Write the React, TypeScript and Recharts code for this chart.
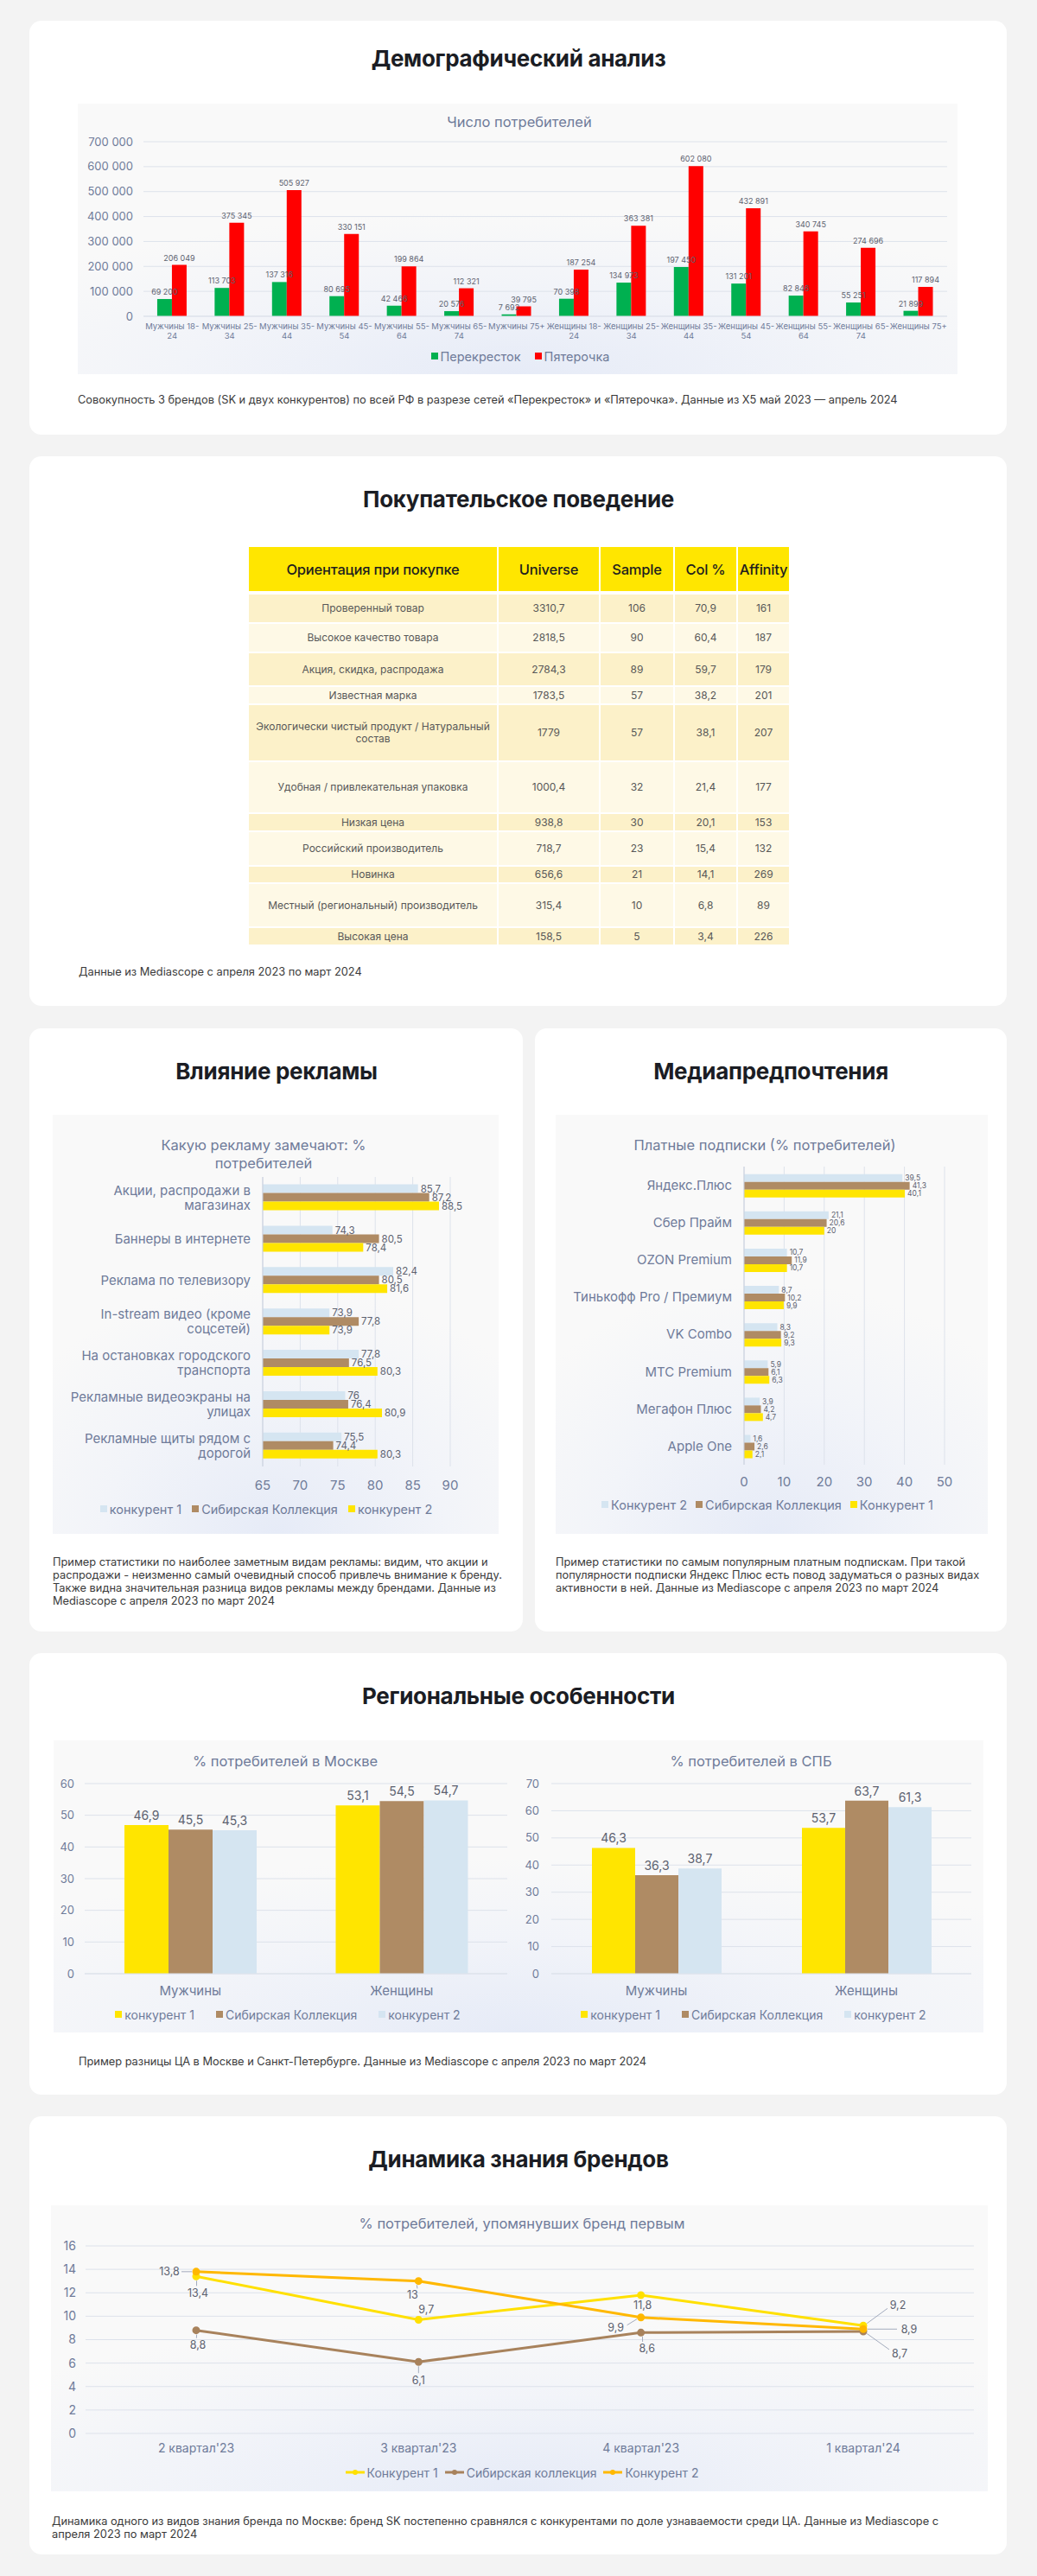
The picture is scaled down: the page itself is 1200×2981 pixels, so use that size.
import React from 'react';
import {
  Bar,
  BarChart,
  CartesianGrid,
  LabelList,
  Line,
  LineChart,
  XAxis,
  YAxis,
} from 'recharts';

const FONT = 'Inter, "Noto Sans", sans-serif';
const AXIS = '#6f7b99';
const GRID = '#dde2eb';
const VALUE = '#5d6270';
const YELLOW = '#FFE500';
const BROWN = '#AF8B64';
const BLUE = '#D5E5F1';
const GREEN = '#00B050';
const RED = '#FF0000';
const LINE_Y = '#FFE000';
const LINE_O = '#FFB800';
const LINE_B = '#A8825C';

// --- Демографический анализ
const demoGroups = [
  'Мужчины 18-24', 'Мужчины 25-34', 'Мужчины 35-44', 'Мужчины 45-54', 'Мужчины 55-64', 'Мужчины 65-74', 'Мужчины 75+',
  'Женщины 18-24', 'Женщины 25-34', 'Женщины 35-44', 'Женщины 45-54', 'Женщины 55-64', 'Женщины 65-74', 'Женщины 75+',
];
const perekrestok = [69200, 113703, 137316, 80695, 42466, 20576, 7692, 70398, 134973, 197450, 131201, 82846, 55251, 21899];
const pyaterochka = [206049, 375345, 505927, 330151, 199864, 112321, 39795, 187254, 363381, 602080, 432891, 340745, 274696, 117894];
const demoTicks = [0, 100000, 200000, 300000, 400000, 500000, 600000, 700000];

// --- Покупательское поведение
const tableHeader = ['Ориентация при покупке', 'Universe', 'Sample', 'Col %', 'Affinity'];
const purchaseDrivers = [
  'Проверенный товар',
  'Высокое качество товара',
  'Акция, скидка, распродажа',
  'Известная марка',
  'Экологически чистый продукт / Натуральный состав',
  'Удобная / привлекательная упаковка',
  'Низкая цена',
  'Российский производитель',
  'Новинка',
  'Местный (региональный) производитель',
  'Высокая цена',
];
const universe = [3310.7, 2818.5, 2784.3, 1783.5, 1779, 1000.4, 938.8, 718.7, 656.6, 315.4, 158.5];
const sample = [106, 90, 89, 57, 57, 32, 30, 23, 21, 10, 5];
const colPct = [70.9, 60.4, 59.7, 38.2, 38.1, 21.4, 20.1, 15.4, 14.1, 6.8, 3.4];
const affinity = [161, 187, 179, 201, 207, 177, 153, 132, 269, 89, 226];

// --- Влияние рекламы
const adTypes = [
  'Акции, распродажи в магазинах',
  'Баннеры в интернете',
  'Реклама по телевизору',
  'In-stream видео (кроме соцсетей)',
  'На остановках городского транспорта',
  'Рекламные видеоэкраны на улицах',
  'Рекламные щиты рядом с дорогой',
];
const adCompetitor1 = [85.7, 74.3, 82.4, 73.9, 77.8, 76, 75.5];
const adSibir = [87.2, 80.5, 80.5, 77.8, 76.5, 76.4, 74.4];
const adCompetitor2 = [88.5, 78.4, 81.6, 73.9, 80.3, 80.9, 80.3];
const adTicks = [65, 70, 75, 80, 85, 90];

// --- Медиапредпочтения
const subscriptions = [
  'Яндекс.Плюс', 'Сбер Прайм', 'OZON Premium', 'Тинькофф Pro / Премиум',
  'VK Combo', 'МТС Premium', 'Мегафон Плюс', 'Apple One',
];
const subCompetitor2 = [39.5, 21.1, 10.7, 8.7, 8.3, 5.9, 3.9, 1.6];
const subSibir = [41.3, 20.6, 11.9, 10.2, 9.2, 6.1, 4.2, 2.6];
const subCompetitor1 = [40.1, 20, 10.7, 9.9, 9.3, 6.3, 4.7, 2.1];
const subTicks = [0, 10, 20, 30, 40, 50];

// --- Региональные особенности
const genders = ['Мужчины', 'Женщины'];
const mskCompetitor1 = [46.9, 53.1];
const mskSibir = [45.5, 54.5];
const mskCompetitor2 = [45.3, 54.7];
const spbCompetitor1 = [46.3, 53.7];
const spbSibir = [36.3, 63.7];
const spbCompetitor2 = [38.7, 61.3];
const mskTicks = [0, 10, 20, 30, 40, 50, 60];
const spbTicks = [0, 10, 20, 30, 40, 50, 60, 70];

// --- Динамика знания брендов
const quarters = ["2 квартал'23", "3 квартал'23", "4 квартал'23", "1 квартал'24"];
const dynCompetitor1 = [13.4, 9.7, 11.8, 9.2];
const dynSibir = [8.8, 6.1, 8.6, 8.7];
const dynCompetitor2 = [13.8, 13, 9.9, 8.9];
const dynTicks = [0, 2, 4, 6, 8, 10, 12, 14, 16];

const comma = (v: unknown) => String(v).replace('.', ',');
// non-breaking space so Recharts' Text doesn't wrap "206 049" into two lines
const spaced = (v: unknown) => String(v).replace(/\B(?=(\d{3})+(?!\d))/g, '\u00A0');

const demoData = demoGroups.map((name, i) => ({ name, perekrestok: perekrestok[i], pyaterochka: pyaterochka[i] }));
const adData = adTypes.map((name, i) => ({ name, c1: adCompetitor1[i], sk: adSibir[i], c2: adCompetitor2[i] }));
const subData = subscriptions.map((name, i) => ({ name, c2: subCompetitor2[i], sk: subSibir[i], c1: subCompetitor1[i] }));
const mskData = genders.map((name, i) => ({ name, c1: mskCompetitor1[i], sk: mskSibir[i], c2: mskCompetitor2[i] }));
const spbData = genders.map((name, i) => ({ name, c1: spbCompetitor1[i], sk: spbSibir[i], c2: spbCompetitor2[i] }));
const dynData = quarters.map((name, i) => ({ name, c1: dynCompetitor1[i], sk: dynSibir[i], c2: dynCompetitor2[i] }));

// label placement for the line chart (dx, dy from the point)
const dynLabelShift: Record<string, number[][]> = {
  c1: [[2, 19], [9, -12], [2, 12], [40, -24]],
  sk: [[2, 17], [0, 21], [7, 18], [42, 25]],
  c2: [[-31, 0], [-7, 16], [-29, 12], [53, 0]],
};

const tableCols = [287, 116, 84, 71, 59];
const tableRowHeights = [32, 32, 37, 19, 64, 58, 19, 38, 18, 49, 19];

function abs(left: number, top: number, extra: React.CSSProperties = {}): React.CSSProperties {
  return { position: 'absolute', left, top, ...extra };
}

function Card({ x, y, w, h }: { x: number; y: number; w: number; h: number }) {
  return <div style={abs(x, y, { width: w, height: h, background: '#fff', borderRadius: 14 })} />;
}

function Title({ cx, cy, text }: { cx: number; cy: number; text: string }) {
  return (
    <div
      style={abs(cx - 300, cy - 16, {
        width: 600, textAlign: 'center', lineHeight: '32px', fontSize: 26,
        fontWeight: 700, color: '#1b1d24', letterSpacing: -0.3,
      })}
    >
      {text}
    </div>
  );
}

function Panel({ x, y, w, h }: { x: number; y: number; w: number; h: number }) {
  return (
    <div
      style={abs(x, y, {
        width: w, height: h,
        background: 'radial-gradient(ellipse 70% 60% at 50% 100%, #e6ebf7 0%, #f2f4f9 55%, #f9f9f9 100%)',
      })}
    />
  );
}

function ChartTitle({ cx, cy, lines, size = 16.5 }: { cx: number; cy: number; lines: string[]; size?: number }) {
  const lh = 21;
  return (
    <div
      style={abs(cx - 250, cy - lh / 2, {
        width: 500, textAlign: 'center', fontSize: size, lineHeight: `${lh}px`, color: AXIS,
      })}
    >
      {lines.map((l) => <div key={l}>{l}</div>)}
    </div>
  );
}

function Caption({ x, y, lines }: { x: number; y: number; lines: string[] }) {
  return (
    <div style={abs(x, y - 7.5, { fontSize: 12.8, lineHeight: '15px', color: '#3a3a3a', whiteSpace: 'nowrap' })}>
      {lines.map((l) => <div key={l}>{l}</div>)}
    </div>
  );
}

interface LegendItem { label: string; color: string }

function HtmlLegend({ cx, cy, items, gap, size = 14.5, line = false }: {
  cx: number; cy: number; items: LegendItem[]; gap: number; size?: number; line?: boolean;
}) {
  return (
    <div
      style={abs(cx - 300, cy - 10, {
        width: 600, height: 20, display: 'flex', justifyContent: 'center', alignItems: 'center',
        gap, fontSize: size, color: AXIS,
      })}
    >
      {items.map((it) => (
        <div key={it.label} style={{ display: 'flex', alignItems: 'center', gap: 3 }}>
          {line ? (
            <svg width={22} height={10}>
              <line x1={0} y1={5} x2={22} y2={5} stroke={it.color} strokeWidth={3} />
              <circle cx={11} cy={5} r={3} fill={it.color} />
            </svg>
          ) : (
            <span style={{ width: 8, height: 8, background: it.color, display: 'inline-block' }} />
          )}
          <span>{it.label}</span>
        </div>
      ))}
    </div>
  );
}

function wrapWords(text: string, maxChars: number): string[] {
  const lines: string[] = [];
  let cur = '';
  for (const w of text.split(' ')) {
    const next = cur ? `${cur} ${w}` : w;
    if (next.length > maxChars && cur) {
      lines.push(cur);
      cur = w;
    } else {
      cur = next;
    }
  }
  if (cur) lines.push(cur);
  return lines;
}

function WrapTick(props: any) {
  const { x, y, payload, maxChars, fontSize, lineHeight } = props;
  const lines = wrapWords(String(payload.value), maxChars);
  const first = -((lines.length - 1) * lineHeight) / 2 + fontSize * 0.36;
  return (
    <text x={x} y={y} textAnchor="end" fill={AXIS} fontSize={fontSize} fontFamily={FONT}>
      {lines.map((l, i) => (
        <tspan key={l} x={x} dy={i === 0 ? first : lineHeight}>{l}</tspan>
      ))}
    </text>
  );
}

function DemoTick(props: any) {
  const { x, y, payload } = props;
  const label = String(payload.value);
  const cut = label.indexOf('-');
  const lines = cut >= 0 ? [label.slice(0, cut + 1), label.slice(cut + 1)] : [label];
  return (
    <text x={x} y={y} textAnchor="middle" fill={AXIS} fontSize={9.5} fontFamily={FONT}>
      {lines.map((l, i) => (
        <tspan key={l} x={x} dy={i === 0 ? 6.5 : 11}>{l}</tspan>
      ))}
    </text>
  );
}

function DynLabel(props: any) {
  const { value, index, series } = props;
  const vb = props.viewBox || {};
  const x = Number(props.x ?? vb.x);
  const y = Number(props.y ?? vb.y);
  const [dx, dy] = dynLabelShift[series][index];
  const lx = x + dx;
  const ly = y + dy;
  const dist = Math.hypot(dx, dy);
  const ux = dx / dist;
  const uy = dy / dist;
  return (
    <g>
      {dist > 16 && (
        <line
          x1={x + ux * 5}
          y1={y + uy * 5}
          x2={lx - ux * 14}
          y2={ly - uy * 8}
          stroke="#a3abbd"
          strokeWidth={1}
        />
      )}
      <text x={lx} y={ly} textAnchor="middle" dominantBaseline="central" fill={VALUE} fontSize={12.5} fontFamily={FONT}>
        {comma(value)}
      </text>
    </g>
  );
}

function PurchaseTable() {
  const rows = purchaseDrivers.map((d, i) => [d, comma(universe[i]), String(sample[i]), comma(colPct[i]), String(affinity[i])]);
  const cols = tableCols.map((c) => `${c}px`).join(' ');
  return (
    <div style={abs(288, 633, { width: 625 })}>
      <div style={{ display: 'grid', gridTemplateColumns: cols, columnGap: 2, height: 51 }}>
        {tableHeader.map((h) => (
          <div
            key={h}
            style={{
              background: '#FFE600', display: 'flex', alignItems: 'center', justifyContent: 'center',
              fontSize: 16.5, color: '#1e1e1e', fontWeight: 500, whiteSpace: 'nowrap', letterSpacing: -0.2,
            }}
          >
            {h}
          </div>
        ))}
      </div>
      <div
        style={{
          display: 'grid', gridTemplateColumns: cols, gridTemplateRows: tableRowHeights.map((r) => `${r}px`).join(' '),
          columnGap: 2, rowGap: 2, marginTop: 4,
        }}
      >
        {rows.flatMap((r, i) => r.map((c, j) => (
          <div
            key={`${i}-${j}`}
            style={{
              background: i % 2 === 0 ? '#FCF1C9' : '#FEF9E6', display: 'flex', alignItems: 'center',
              justifyContent: 'center', textAlign: 'center', fontSize: 12, lineHeight: '14px', color: '#585858',
              padding: j === 0 ? '0 4px' : 0,
            }}
          >
            {c}
          </div>
        )))}
      </div>
    </div>
  );
}

const tickStyle = (size: number) => ({ fill: AXIS, fontSize: size, fontFamily: FONT });

export default function App() {
  return (
    <div style={abs(0, 0, { width: 1200, height: 2981, background: '#f3f3f3', fontFamily: FONT, overflow: 'hidden' })}>
      {/* Демографический анализ */}
      <Card x={34} y={24} w={1131} h={479} />
      <Title cx={600} cy={68} text="Демографический анализ" />
      <Panel x={90} y={120} w={1018} h={313} />
      <ChartTitle cx={601} cy={141} lines={['Число потребителей']} />
      <div style={abs(90, 120)}>
        <BarChart
          width={1018}
          height={313}
          data={demoData}
          margin={{ top: 44, right: 12, bottom: 31, left: 0 }}
          barCategoryGap="24%"
          barGap={0}
        >
          <CartesianGrid vertical={false} stroke={GRID} />
          <XAxis
            dataKey="name"
            interval={0}
            height={36}
            axisLine={{ stroke: GRID }}
            tickLine={false}
            tick={(p: any) => <DemoTick {...p} />}
          />
          <YAxis
            width={76}
            domain={[0, 700000]}
            ticks={demoTicks}
            tickFormatter={spaced}
            axisLine={false}
            tickLine={false}
            tickMargin={6}
            tick={tickStyle(13)}
          />
          <Bar dataKey="perekrestok" fill={GREEN} isAnimationActive={false}>
            <LabelList dataKey="perekrestok" position="top" offset={5} formatter={spaced} fill={VALUE} fontSize={9} />
          </Bar>
          <Bar dataKey="pyaterochka" fill={RED} isAnimationActive={false}>
            <LabelList dataKey="pyaterochka" position="top" offset={5} formatter={spaced} fill={VALUE} fontSize={9} />
          </Bar>
        </BarChart>
      </div>
      <HtmlLegend
        cx={602}
        cy={412}
        gap={16}
        items={[{ label: 'Перекресток', color: GREEN }, { label: 'Пятерочка', color: RED }]}
      />
      <Caption
        x={90}
        y={462}
        lines={['Совокупность 3 брендов (SK и двух конкурентов) по всей РФ в разрезе сетей «Перекресток» и «Пятерочка». Данные из X5 май 2023 — апрель 2024']}
      />

      {/* Покупательское поведение */}
      <Card x={34} y={528} w={1131} h={636} />
      <Title cx={600} cy={578} text="Покупательское поведение" />
      <PurchaseTable />
      <Caption x={91} y={1124} lines={['Данные из Mediascope с апреля 2023 по март 2024']} />

      {/* Влияние рекламы */}
      <Card x={34} y={1190} w={571} h={698} />
      <Title cx={320} cy={1240} text="Влияние рекламы" />
      <Panel x={61} y={1290} w={516} h={485} />
      <ChartTitle cx={305} cy={1325} lines={['Какую рекламу замечают: %', 'потребителей']} />
      <div style={abs(61, 1290)}>
        <BarChart
          layout="vertical"
          width={516}
          height={485}
          data={adData}
          margin={{ top: 72, right: 56, bottom: 48, left: 0 }}
          barCategoryGap="18%"
          barGap={0}
        >
          <CartesianGrid horizontal={false} stroke={GRID} />
          <XAxis
            type="number"
            domain={[65, 90]}
            ticks={adTicks}
            axisLine={false}
            tickLine={false}
            height={30}
            tickMargin={10}
            tick={tickStyle(15)}
          />
          <YAxis
            type="category"
            dataKey="name"
            width={243}
            axisLine={{ stroke: '#c9d0dd' }}
            tickLine={false}
            tickMargin={8}
            tick={(p: any) => <WrapTick {...p} maxChars={24} fontSize={15} lineHeight={17} />}
          />
          <Bar dataKey="c1" fill={BLUE} isAnimationActive={false}>
            <LabelList dataKey="c1" position="right" offset={3} formatter={comma} fill={VALUE} fontSize={11.5} />
          </Bar>
          <Bar dataKey="sk" fill={BROWN} isAnimationActive={false}>
            <LabelList dataKey="sk" position="right" offset={3} formatter={comma} fill={VALUE} fontSize={11.5} />
          </Bar>
          <Bar dataKey="c2" fill={YELLOW} isAnimationActive={false}>
            <LabelList dataKey="c2" position="right" offset={3} formatter={comma} fill={VALUE} fontSize={11.5} />
          </Bar>
        </BarChart>
      </div>
      <HtmlLegend
        cx={308}
        cy={1746}
        gap={12}
        items={[
          { label: 'конкурент 1', color: BLUE },
          { label: 'Сибирская Коллекция', color: BROWN },
          { label: 'конкурент 2', color: YELLOW },
        ]}
      />
      <Caption
        x={61}
        y={1807}
        lines={[
          'Пример статистики по наиболее заметным видам рекламы: видим, что акции и',
          'распродажи - неизменно самый очевидный способ привлечь внимание к бренду.',
          'Также видна значительная разница видов рекламы между брендами. Данные из',
          'Mediascope с апреля 2023 по март 2024',
        ]}
      />

      {/* Медиапредпочтения */}
      <Card x={619} y={1190} w={546} h={698} />
      <Title cx={892} cy={1240} text="Медиапредпочтения" />
      <Panel x={643} y={1290} w={500} h={485} />
      <ChartTitle cx={885} cy={1325} lines={['Платные подписки (% потребителей)']} />
      <div style={abs(643, 1290)}>
        <BarChart
          layout="vertical"
          width={500}
          height={485}
          data={subData}
          margin={{ top: 60, right: 50, bottom: 50, left: 0 }}
          barCategoryGap="20%"
          barGap={0}
        >
          <CartesianGrid horizontal={false} stroke={GRID} />
          <XAxis
            type="number"
            domain={[0, 50]}
            ticks={subTicks}
            axisLine={false}
            tickLine={false}
            height={30}
            tickMargin={8}
            tick={tickStyle(15)}
          />
          <YAxis
            type="category"
            dataKey="name"
            width={218}
            axisLine={{ stroke: '#c9d0dd' }}
            tickLine={false}
            tickMargin={8}
            tick={(p: any) => <WrapTick {...p} maxChars={40} fontSize={15} lineHeight={17} />}
          />
          <Bar dataKey="c2" fill={BLUE} isAnimationActive={false}>
            <LabelList dataKey="c2" position="right" offset={3} formatter={comma} fill={VALUE} fontSize={8.5} />
          </Bar>
          <Bar dataKey="sk" fill={BROWN} isAnimationActive={false}>
            <LabelList dataKey="sk" position="right" offset={3} formatter={comma} fill={VALUE} fontSize={8.5} />
          </Bar>
          <Bar dataKey="c1" fill={YELLOW} isAnimationActive={false}>
            <LabelList dataKey="c1" position="right" offset={3} formatter={comma} fill={VALUE} fontSize={8.5} />
          </Bar>
        </BarChart>
      </div>
      <HtmlLegend
        cx={888}
        cy={1741}
        gap={10}
        items={[
          { label: 'Конкурент 2', color: BLUE },
          { label: 'Сибирская Коллекция', color: BROWN },
          { label: 'Конкурент 1', color: YELLOW },
        ]}
      />
      <Caption
        x={643}
        y={1807}
        lines={[
          'Пример статистики по самым популярным платным подпискам. При такой',
          'популярности подписки Яндекс Плюс есть повод задуматься о разных видах',
          'активности в ней. Данные из Mediascope с апреля 2023 по март 2024',
        ]}
      />

      {/* Региональные особенности */}
      <Card x={34} y={1913} w={1131} h={511} />
      <Title cx={600} cy={1963} text="Региональные особенности" />
      <Panel x={62} y={2014} w={1076} h={338} />
      <ChartTitle cx={330} cy={2038} lines={['% потребителей в Москве']} />
      <ChartTitle cx={869} cy={2038} lines={['% потребителей в СПБ']} />
      <div style={abs(62, 2014)}>
        <BarChart
          width={530}
          height={338}
          data={mskData}
          margin={{ top: 50, right: 5, bottom: 38, left: 0 }}
          barGap={0}
          barSize={51}
        >
          <CartesianGrid vertical={false} stroke={GRID} />
          <XAxis dataKey="name" height={30} axisLine={{ stroke: GRID }} tickLine={false} tickMargin={8} tick={tickStyle(15)} />
          <YAxis
            width={36}
            domain={[0, 60]}
            ticks={mskTicks}
            axisLine={false}
            tickLine={false}
            tickMargin={6}
            tick={tickStyle(13)}
          />
          <Bar dataKey="c1" fill={YELLOW} isAnimationActive={false}>
            <LabelList dataKey="c1" position="top" offset={6} formatter={comma} fill={VALUE} fontSize={14} />
          </Bar>
          <Bar dataKey="sk" fill={BROWN} isAnimationActive={false}>
            <LabelList dataKey="sk" position="top" offset={6} formatter={comma} fill={VALUE} fontSize={14} />
          </Bar>
          <Bar dataKey="c2" fill={BLUE} isAnimationActive={false}>
            <LabelList dataKey="c2" position="top" offset={6} formatter={comma} fill={VALUE} fontSize={14} />
          </Bar>
        </BarChart>
      </div>
      <div style={abs(600, 2014)}>
        <BarChart
          width={538}
          height={338}
          data={spbData}
          margin={{ top: 50, right: 14, bottom: 38, left: 0 }}
          barGap={0}
          barSize={50}
        >
          <CartesianGrid vertical={false} stroke={GRID} />
          <XAxis dataKey="name" height={30} axisLine={{ stroke: GRID }} tickLine={false} tickMargin={8} tick={tickStyle(15)} />
          <YAxis
            width={38}
            domain={[0, 70]}
            ticks={spbTicks}
            axisLine={false}
            tickLine={false}
            tickMargin={8}
            tick={tickStyle(13)}
          />
          <Bar dataKey="c1" fill={YELLOW} isAnimationActive={false}>
            <LabelList dataKey="c1" position="top" offset={6} formatter={comma} fill={VALUE} fontSize={14} />
          </Bar>
          <Bar dataKey="sk" fill={BROWN} isAnimationActive={false}>
            <LabelList dataKey="sk" position="top" offset={6} formatter={comma} fill={VALUE} fontSize={14} />
          </Bar>
          <Bar dataKey="c2" fill={BLUE} isAnimationActive={false}>
            <LabelList dataKey="c2" position="top" offset={6} formatter={comma} fill={VALUE} fontSize={14} />
          </Bar>
        </BarChart>
      </div>
      <HtmlLegend
        cx={333}
        cy={2331}
        gap={25}
        size={14}
        items={[
          { label: 'конкурент 1', color: YELLOW },
          { label: 'Сибирская Коллекция', color: BROWN },
          { label: 'конкурент 2', color: BLUE },
        ]}
      />
      <HtmlLegend
        cx={872}
        cy={2331}
        gap={25}
        size={14}
        items={[
          { label: 'конкурент 1', color: YELLOW },
          { label: 'Сибирская Коллекция', color: BROWN },
          { label: 'конкурент 2', color: BLUE },
        ]}
      />
      <Caption
        x={91}
        y={2385}
        lines={['Пример разницы ЦА в Москве и Санкт-Петербурге. Данные из Mediascope с апреля 2023 по март 2024']}
      />

      {/* Динамика знания брендов */}
      <Card x={34} y={2449} w={1131} h={507} />
      <Title cx={600} cy={2499} text="Динамика знания брендов" />
      <Panel x={59} y={2552} w={1084} h={331} />
      <ChartTitle cx={604} cy={2573} lines={['% потребителей, упомянувших бренд первым']} />
      <div style={abs(59, 2552)}>
        <LineChart
          width={1084}
          height={331}
          data={dynData}
          margin={{ top: 47, right: 16, bottom: 39, left: 0 }}
        >
          <CartesianGrid vertical={false} stroke={GRID} />
          <XAxis
            dataKey="name"
            padding={{ left: 128, right: 128 }}
            height={28}
            axisLine={false}
            tickLine={false}
            tickMargin={6}
            tick={tickStyle(14)}
          />
          <YAxis
            width={40}
            domain={[0, 16]}
            ticks={dynTicks}
            axisLine={false}
            tickLine={false}
            tickMargin={5}
            tick={tickStyle(14)}
          />
          <Line
            dataKey="c1"
            stroke={LINE_Y}
            strokeWidth={3}
            dot={{ r: 3, fill: LINE_Y, stroke: LINE_Y }}
            isAnimationActive={false}
          >
            <LabelList dataKey="c1" content={(p: any) => <DynLabel {...p} series="c1" />} />
          </Line>
          <Line
            dataKey="sk"
            stroke={LINE_B}
            strokeWidth={3}
            dot={{ r: 3, fill: LINE_B, stroke: LINE_B }}
            isAnimationActive={false}
          >
            <LabelList dataKey="sk" content={(p: any) => <DynLabel {...p} series="sk" />} />
          </Line>
          <Line
            dataKey="c2"
            stroke={LINE_O}
            strokeWidth={3}
            dot={{ r: 3, fill: LINE_O, stroke: LINE_O }}
            isAnimationActive={false}
          >
            <LabelList dataKey="c2" content={(p: any) => <DynLabel {...p} series="c2" />} />
          </Line>
        </LineChart>
      </div>
      <HtmlLegend
        cx={604}
        cy={2861}
        gap={8}
        size={14}
        line
        items={[
          { label: 'Конкурент 1', color: LINE_Y },
          { label: 'Сибирская коллекция', color: LINE_B },
          { label: 'Конкурент 2', color: LINE_O },
        ]}
      />
      <Caption
        x={60}
        y={2917}
        lines={[
          'Динамика одного из видов знания бренда по Москве: бренд SK постепенно сравнялся с конкурентами по доле узнаваемости среди ЦА. Данные из Mediascope с',
          'апреля 2023 по март 2024',
        ]}
      />
    </div>
  );
}
